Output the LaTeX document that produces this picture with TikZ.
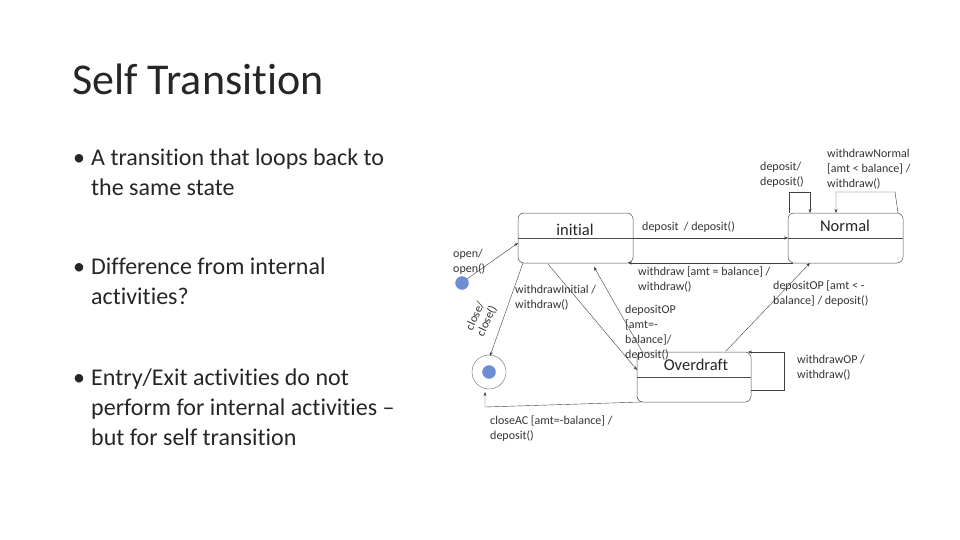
\documentclass[tikz,border=0pt]{standalone}
\usepackage{fontspec}
\setmainfont{Carlito}[Ligatures={NoCommon}]
\usetikzlibrary{arrows.meta}
\begin{document}
\begin{tikzpicture}[x=1pt,y=-1pt,
  st/.style={draw=black!70,line width=0.5pt,rounded corners=6pt},
  tr/.style={draw=black!75,line width=0.4pt,-{Stealth[length=4pt,width=3pt]}},
  lab/.style={font=\fontsize{12}{15}\selectfont,text=black!80,align=left,anchor=north west,inner sep=0pt},
  sn/.style={font=\fontsize{16.5}{18}\selectfont,text=black!85},
  bul/.style={font=\fontsize{24}{30}\selectfont,text=black!85,align=left,anchor=north west,inner sep=0pt}]
\useasboundingbox (0,0) rectangle (960,540);
\node[anchor=base west,inner sep=0pt,font=\fontsize{44}{50}\selectfont,text=black!85] (title) at (72,95) {Self Transition};
\node[bul] (b1) at (73,149) {\makebox[18pt][l]{•}A transition that loops back to\\\hspace*{18pt}the same state};
\node[bul] (b2) at (73,258) {\makebox[18pt][l]{•}Difference from internal\\\hspace*{18pt}activities?};
\node[bul] (b3) at (73,369) {\makebox[18pt][l]{•}Entry/Exit activities do not\\\hspace*{18pt}perform for internal activities –\\\hspace*{18pt}but for self transition};
% states
\draw[st] (518,213) rectangle (633,263);
\draw[draw=black!70,line width=0.5pt] (518,238) -- (633,238);
\node[sn] (ini) at (575,230) {initial};
\draw[st] (788,213) rectangle (903,263);
\draw[draw=black!70,line width=0.5pt] (788,238) -- (903,238);
\node[sn] (nor) at (845,226) {Normal};
\draw[st] (637,352) rectangle (751,402);
\draw[draw=black!70,line width=0.5pt] (637,377) -- (751,377);
\node[sn] (ovd) at (696,365) {Overdraft};
% initial / final
\node[circle,fill=cyan!40!blue!60,draw=blue!50,minimum size=13pt,inner sep=0pt] (start) at (462,283) {};
\node[circle,draw=black!60,minimum size=34pt,inner sep=0pt] (fin) at (489,372) {};
\node[circle,fill=cyan!40!blue!60,draw=blue!50,minimum size=13pt,inner sep=0pt] (finin) at (489,372) {};
% transitions
\coordinate (a1) at (467,279); \coordinate (a2) at (518,243);
\draw[tr] (a1) -- (a2);
\coordinate (d1) at (633,238); \coordinate (d2) at (788,238);
\draw[tr] (d1) -- (d2);
\coordinate (w1) at (793,263); \coordinate (w2) at (628,263);
\draw[tr] (w1) -- (w2);
\coordinate (wi1) at (548,264); \coordinate (wi2) at (637,370);
\draw[tr] (wi1) -- (wi2);
\coordinate (dp1) at (643,353); \coordinate (dp2) at (594,267);
\draw[tr] (dp1) -- (dp2);
\coordinate (dn1) at (726,351); \coordinate (dn2) at (810,263);
\draw[tr] (dn1) -- (dn2);
\coordinate (c1) at (523,263); \coordinate (c2) at (490,356);
\draw[tr] (c1) -- (c2);
\coordinate (ca1) at (642,402); \coordinate (ca2) at (485,392);
\draw[tr] (ca1) -- (485,407) -- (ca2);
\coordinate (n1) at (789,213); \coordinate (n2) at (810,213);
\draw[tr] (n1) -- (789,192) -- (810,192) -- (n2);
\coordinate (m1) at (898,213); \coordinate (m2) at (836,213);
\draw[tr] (m1) -- (895,192) -- (836,192) -- (m2);
\coordinate (o1) at (751,390); \coordinate (o2) at (748,352);
\draw[tr] (o1) -- (784,390) -- (784,352) -- (o2);
% labels
\node[lab] (l1) at (453,249) {open/\\open()};
\node[lab,anchor=center,rotate=65] (l2a) at (475,316) {close/};
\node[lab,anchor=center,rotate=65] (l2b) at (487,321) {close()};
\node[lab] (l3) at (515,285) {withdrawInitial /\\withdraw()};
\node[lab] (l4) at (642,222) {deposit \ / deposit()};
\node[lab] (l5) at (638,267) {withdraw [amt = balance] /\\withdraw()};
\node[lab] (l6) at (773,281) {depositOP [amt < -\\balance] / deposit()};
\node[lab] (l7) at (625,305) {depositOP\\{[amt=-}\\balance]/\\deposit()};
\node[lab] (l8) at (760,162) {deposit/\\deposit()};
\node[lab] (l9) at (827,149) {withdrawNormal\\{[amt < balance] /}\\withdraw()};
\node[lab] (l10) at (797,355) {withdrawOP /\\withdraw()};
\node[lab] (l11) at (490,416) {closeAC [amt=-balance] /\\deposit()};
\end{tikzpicture}
\end{document}
